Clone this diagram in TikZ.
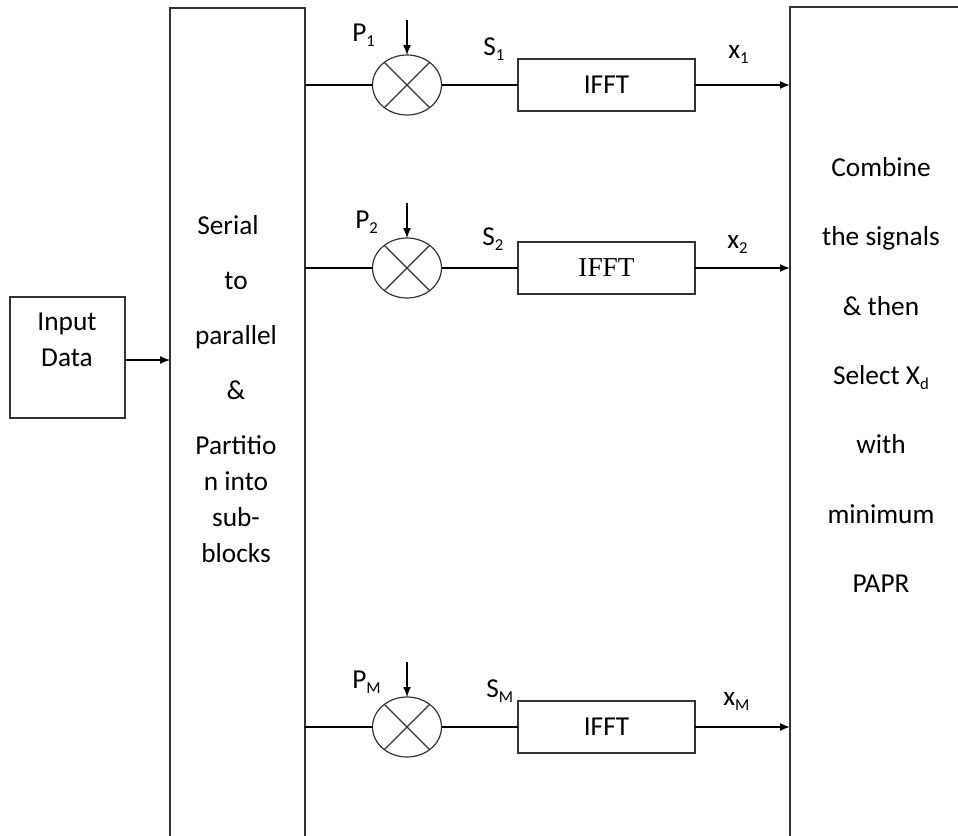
\documentclass[tikz,border=0pt]{standalone}
\usepackage{fontspec}
\setmainfont{Carlito}
\newfontfamily\ifftserif{Liberation Serif}
\usetikzlibrary{shapes.geometric,arrows.meta}
\newcommand{\lowsub}[1]{\raisebox{-0.4ex}{\fontsize{12.5}{12.5}\selectfont #1}}
\begin{document}
\begin{tikzpicture}[x=0.75pt,y=-0.75pt,
  box/.style={draw=black!80, line width=1pt, inner sep=0pt, outer sep=0pt},
  txt/.style={font=\fontsize{20.5}{27}\selectfont, inner sep=0pt, align=center},
  lbl/.style={font=\fontsize{20.5}{24}\selectfont, inner sep=0pt, anchor=base west},
  mixer/.style={draw=black!80, ellipse, line width=0.9pt, minimum width=51.75pt, minimum height=45pt, inner sep=0pt, outer sep=0pt},
  wire/.style={line width=1pt},
  arr/.style={line width=1pt, -{Latex[length=7.5pt,width=6pt]}},
]
\useasboundingbox (0,0) rectangle (958,836);
\fill[white] (0,0) rectangle (958,836);
\clip (0,0) rectangle (958,836);

% main blocks
\node[box, minimum width=86.25pt, minimum height=90.75pt] (in) at (67.5,357.5) {};
\node[txt] (intxt) at (67,340) {Input\\Data};
\node[box, minimum width=101.25pt, minimum height=669pt] (sp) at (237.5,454) {};
\node[txt] (sptxt) at (236,389) {Serial\hspace*{12pt}\\[14.25pt]to\\[14.25pt]parallel\\[14.25pt]\&\\[14.25pt]Partitio\\n into\\sub-\\blocks};
\node[box, minimum width=157.5pt, minimum height=669.75pt] (rb) at (895,453.5) {};
\node[txt, font=\fontsize{20.5}{52}\selectfont] (rbtxt) at (881,375) {Combine\\the signals\\\& then\\Select X\lowsub{d}\\with\\minimum\\PAPR};

% mixers
\node[mixer] (m1) at (407,85) {};
\node[mixer] (m2) at (407,268) {};
\node[mixer] (m3) at (407,727) {};
\foreach \m in {m1,m2,m3}{
  \draw[line width=0.9pt, black!80] (\m.135) -- (\m.-45);
  \draw[line width=0.9pt, black!80] (\m.45) -- (\m.225);
}

% IFFT blocks
\node[box, minimum width=132.75pt, minimum height=39pt, font=\fontsize{20.5}{24}\selectfont] (f1) at (606.5,85) {IFFT};
\node[box, minimum width=132.75pt, minimum height=39pt, font=\fontsize{20.5}{24}\selectfont\ifftserif] (f2) at (606.5,268) {IFFT};
\node[box, minimum width=132.75pt, minimum height=39pt, font=\fontsize{20.5}{24}\selectfont] (f3) at (606.5,727) {IFFT};

% phase-factor inputs
\coordinate (p1) at (407,20);
\coordinate (p2) at (407,203);
\coordinate (p3) at (407,662);
\draw[arr] (p1) -- (m1.north);
\draw[arr] (p2) -- (m2.north);
\draw[arr] (p3) -- (m3.north);

% wires
\draw[arr] (in.east |- 0,360) -- (sp.west |- 0,360);
\foreach \i in {1,2,3}{
  \draw[wire] (m\i.west -| sp.east) -- (m\i.west);
  \draw[wire] (m\i.east) -- (f\i.west);
  \draw[arr, line width=1.2pt] (f\i.east) -- (f\i.east -| rb.west);
}

% labels
\node[lbl] (lp1) at (352,41) {P\lowsub{1}};
\node[lbl] (ls1) at (483,55) {S\lowsub{1}};
\node[lbl] (lx1) at (728,58) {x\lowsub{1}};
\node[lbl] (lp2) at (355,228) {P\lowsub{2}};
\node[lbl] (ls2) at (482,245) {S\lowsub{2}};
\node[lbl] (lx2) at (727,248) {x\lowsub{2}};
\node[lbl] (lp3) at (352,688) {P\lowsub{M}};
\node[lbl] (ls3) at (486,697) {S\lowsub{M}};
\node[lbl] (lx3) at (723,705) {x\lowsub{M}};
\end{tikzpicture}
\end{document}
